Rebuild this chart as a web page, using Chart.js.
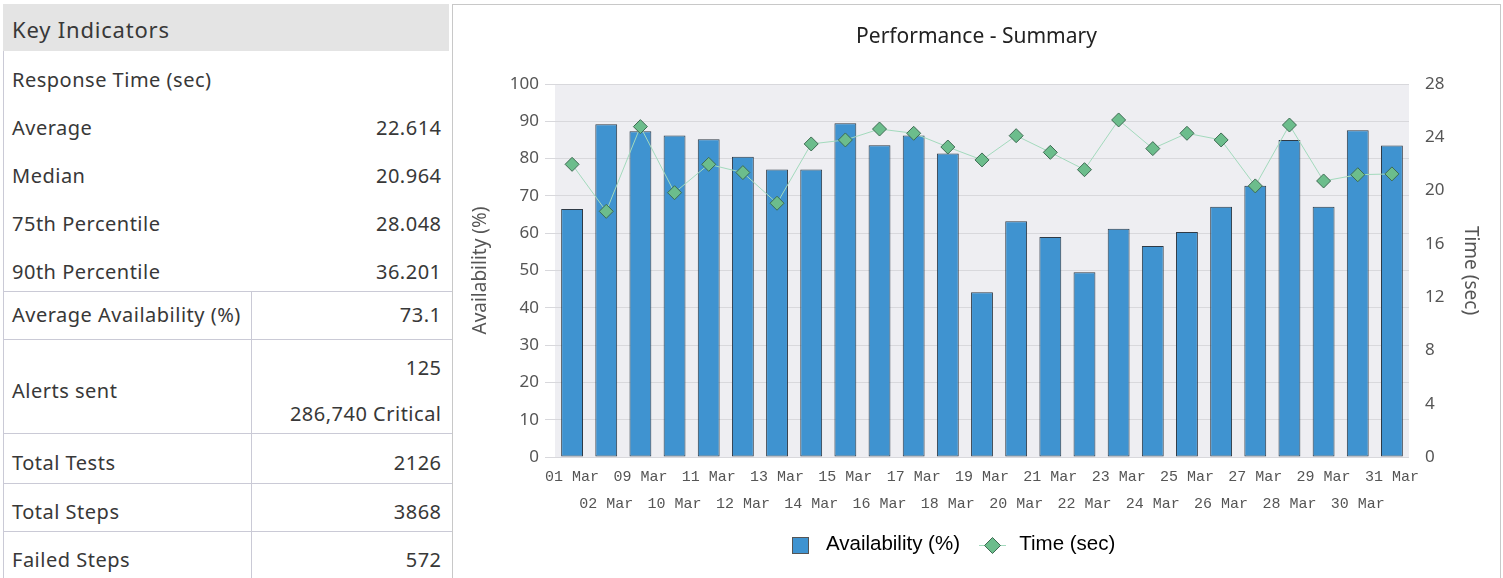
<!DOCTYPE html>
<html>
<head>
<meta charset="utf-8">
<title>Performance - Summary</title>
<script src="https://cdn.jsdelivr.net/npm/chart.js@4.4.1/dist/chart.umd.min.js"></script>
<style>
  html, body {
    margin: 0;
    padding: 0;
    background: #fff;
    overflow: hidden;
  }
  body {
    width: 1503px;
    height: 578px;
    position: relative;
    font-family: "Noto Sans", sans-serif;
    color: #383838;
  }
  .key-heading {
    position: absolute;
    left: 3px;
    top: 4px;
    width: 437px;
    height: 44px;
    padding: 3px 0 0 9px;
    line-height: 44px;
    font-size: 22px;
    letter-spacing: 0.8px;
    background: #e4e4e4;
  }
  .key-table {
    position: absolute;
    left: 3px;
    top: 51px;
    width: 449px;
    border-collapse: collapse;
    table-layout: fixed;
    font-size: 20px;
    letter-spacing: 0.5px;
    border-left: 1px solid #cacad6;
  }
  .key-table td {
    padding: 10px 11px 0 8px;
    line-height: 24px;
    vertical-align: middle;
    white-space: nowrap;
  }
  .key-table td.val {
    text-align: right;
  }
  .key-table tr.sep td {
    border-top: 1px solid #cacad6;
  }
  .key-table td.split {
    border-left: 1px solid #cacad6;
  }
  .key-table tr.centered td {
    padding-top: 0;
  }
  .chart-panel {
    position: absolute;
    left: 452px;
    top: 4px;
    width: 1047px;
    height: 574px;
    border: 1px solid #c8c8c8;
    border-bottom: none;
  }
  .chart-box {
    position: relative;
    width: 1047px;
    height: 573px;
  }
</style>
</head>
<body>
<div class="key-heading">Key Indicators</div>
<table class="key-table">
  <colgroup><col style="width:248px"><col style="width:201px"></colgroup>
  <tr style="height:48px"><td colspan="2">Response Time (sec)</td></tr>
  <tr style="height:48px"><td>Average</td><td class="val">22.614</td></tr>
  <tr style="height:48px"><td>Median</td><td class="val">20.964</td></tr>
  <tr style="height:48px"><td>75th Percentile</td><td class="val">28.048</td></tr>
  <tr style="height:48px"><td>90th Percentile</td><td class="val">36.201</td></tr>
  <tr class="sep centered" style="height:48px"><td>Average Availability (%)</td><td class="val split">73.1</td></tr>
  <tr class="sep" style="height:47px"><td rowspan="2">Alerts sent</td><td class="val split">125</td></tr>
  <tr style="height:47px"><td class="val split">286,740 Critical</td></tr>
  <tr class="sep" style="height:50px"><td>Total Tests</td><td class="val split">2126</td></tr>
  <tr class="sep" style="height:48px"><td>Total Steps</td><td class="val split">3868</td></tr>
  <tr class="sep" style="height:48px"><td>Failed Steps</td><td class="val split">572</td></tr>
</table>

<div class="chart-panel">
  <div class="chart-box"><canvas id="perfChart"></canvas></div>
</div>

<script>
// categories (days of the period)
const days = [
  "01 Mar", "02 Mar", "09 Mar", "10 Mar", "11 Mar", "12 Mar", "13 Mar",
  "14 Mar", "15 Mar", "16 Mar", "17 Mar", "18 Mar", "19 Mar", "20 Mar",
  "21 Mar", "22 Mar", "23 Mar", "24 Mar", "25 Mar", "26 Mar", "27 Mar",
  "28 Mar", "29 Mar", "30 Mar", "31 Mar",
];

// availability in %, left axis
const availability = [
  66.5, 89.2, 87.3, 86.2, 85.2, 80.5, 77.1, 77.1, 89.5, 83.6, 86.2, 81.4,
  44.2, 63.2, 59.0, 49.5, 61.2, 56.6, 60.3, 67.1, 72.7, 85.0, 67.1, 87.6,
  83.5,
];

// response time in seconds, right axis
const responseTime = [
  21.97, 18.44, 24.8, 19.84, 21.97, 21.35, 19.05, 23.5, 23.8, 24.62, 24.3,
  23.27, 22.3, 24.12, 22.87, 21.57, 25.3, 23.15, 24.3, 23.8, 20.35, 24.92,
  20.72, 21.19, 21.25,
];

// axis ranges: min, max, step
const availabilityTicks = [0, 100, 10];
const timeTicks = [0, 28, 4];

const barBlue = "#3f93d0";
const barEdge = "#2e3a46";
const lineGreen = "#a3dabd";
const pointGreen = "#6cbd8c";
const pointEdge = "#3e6b53";

// light grey plot background
const plotBackground = {
  id: "plotBackground",
  beforeDraw(chart) {
    const { ctx, chartArea } = chart;
    ctx.save();
    ctx.fillStyle = "#eeeef2";
    ctx.fillRect(chartArea.left, chartArea.top, chartArea.width, chartArea.height);
    ctx.restore();
  },
};

// the legend sits a bit left of the canvas centre
const legendOffset = {
  id: "legendOffset",
  afterLayout(chart) {
    if (chart.legend) {
      chart.legend.left -= 23;
      chart.legend.right -= 23;
    }
  },
};

// legend symbols: square for the bars, diamond on a line for the time series
const legendSymbols = {
  id: "legendSymbols",
  afterDraw(chart) {
    const legend = chart.legend;
    if (!legend || !legend.legendHitBoxes) return;
    const ctx = chart.ctx;
    legend.legendHitBoxes.forEach((box, i) => {
      const item = legend.legendItems[i];
      const ds = chart.data.datasets[item.datasetIndex];
      const cy = Math.round(box.top + box.height / 2);
      const x = Math.round(box.left);
      ctx.save();
      ctx.lineWidth = 1;
      if (ds.type === "line") {
        ctx.strokeStyle = ds.borderColor;
        ctx.beginPath();
        ctx.moveTo(x - 6, cy + 0.5);
        ctx.lineTo(x + 21, cy + 0.5);
        ctx.stroke();
        const cx = x + 7.5;
        ctx.fillStyle = ds.pointBackgroundColor;
        ctx.strokeStyle = ds.pointBorderColor;
        ctx.beginPath();
        ctx.moveTo(cx - 8, cy + 0.5);
        ctx.lineTo(cx, cy - 7.5);
        ctx.lineTo(cx + 8, cy + 0.5);
        ctx.lineTo(cx, cy + 8.5);
        ctx.closePath();
        ctx.fill();
        ctx.stroke();
      } else {
        ctx.fillStyle = ds.backgroundColor;
        ctx.strokeStyle = "#555";
        ctx.fillRect(x + 0.5, cy - 7.5, 16, 16);
        ctx.strokeRect(x + 0.5, cy - 7.5, 16, 16);
      }
      ctx.restore();
    });
  },
};

const ctx = document.getElementById("perfChart");

new Chart(ctx, {
  data: {
    labels: days,
    datasets: [
      {
        type: "bar",
        label: "Availability (%)",
        data: availability,
        yAxisID: "avail",
        order: 2,
        backgroundColor: barBlue,
        borderColor: barEdge,
        borderWidth: 1,
        borderSkipped: false,
        categoryPercentage: 1,
        barPercentage: 0.64,
      },
      {
        type: "line",
        label: "Time (sec)",
        data: responseTime,
        yAxisID: "time",
        order: 1,
        borderColor: lineGreen,
        borderWidth: 1,
        tension: 0,
        pointStyle: "rectRot",
        pointRadius: 7,
        pointHoverRadius: 7,
        pointBackgroundColor: pointGreen,
        pointBorderColor: pointEdge,
        pointBorderWidth: 1,
      },
    ],
  },
  options: {
    responsive: true,
    maintainAspectRatio: false,
    animation: false,
    layout: {
      padding: { left: 0, right: 0, top: 0, bottom: 13 },
    },
    scales: {
      x: {
        grid: { display: false, drawTicks: false },
        border: { display: false },
        ticks: {
          autoSkip: false,
          maxRotation: 0,
          minRotation: 0,
          padding: 7,
          color: "#555",
          font: { family: "'Liberation Mono', monospace", size: 15, lineHeight: 1.8 },
          // staggered labels: even days on the first row, odd on the second
          callback: (value, index) => (index % 2 === 0 ? [days[index], ""] : ["", days[index]]),
        },
        afterFit: (scale) => {
          scale.height = 52.5;
        },
      },
      avail: {
        type: "linear",
        position: "left",
        min: availabilityTicks[0],
        max: availabilityTicks[1],
        ticks: {
          stepSize: availabilityTicks[2],
          padding: 6,
          color: "#555",
          font: { family: "'Noto Sans', sans-serif", size: 17 },
        },
        grid: { color: "#d8d8dc", tickColor: "#d8d8dc", tickLength: 10 },
        border: { display: false },
        title: {
          display: true,
          text: "Availability (%)",
          color: "#555",
          font: { family: "'Noto Sans', sans-serif", size: 19 },
          padding: { top: 16.6, bottom: 0 },
        },
        afterFit: (scale) => {
          scale.width = 102;
        },
      },
      time: {
        type: "linear",
        position: "right",
        min: timeTicks[0],
        max: timeTicks[1],
        ticks: {
          stepSize: timeTicks[2],
          padding: 16,
          color: "#555",
          font: { family: "'Noto Sans', sans-serif", size: 17 },
        },
        grid: { drawOnChartArea: false, drawTicks: false },
        border: { display: false },
        title: {
          display: true,
          text: "Time (sec)",
          color: "#555",
          font: { family: "'Noto Sans', sans-serif", size: 19 },
          padding: { top: 18.6, bottom: 0 },
        },
        afterFit: (scale) => {
          scale.width = 91;
        },
      },
    },
    plugins: {
      title: {
        display: true,
        text: "Performance - Summary",
        color: "#222",
        font: { family: "'Noto Sans', sans-serif", size: 21, weight: "normal" },
        padding: { top: 19.4, bottom: 34.4 },
      },
      legend: {
        position: "bottom",
        labels: {
          boxWidth: 24,
          boxHeight: 16,
          padding: 25,
          color: "#000",
          font: { family: "'Liberation Sans', Arial, sans-serif", size: 20.5 },
          sort: (a, b) => a.datasetIndex - b.datasetIndex,
          generateLabels: (chart) =>
            Chart.defaults.plugins.legend.labels.generateLabels(chart).map((item) => ({
              ...item,
              fillStyle: "rgba(0,0,0,0)",
              strokeStyle: "rgba(0,0,0,0)",
              lineWidth: 0,
            })),
        },
      },
      tooltip: { enabled: false },
    },
  },
  plugins: [plotBackground, legendOffset, legendSymbols],
});
</script>
</body>
</html>
